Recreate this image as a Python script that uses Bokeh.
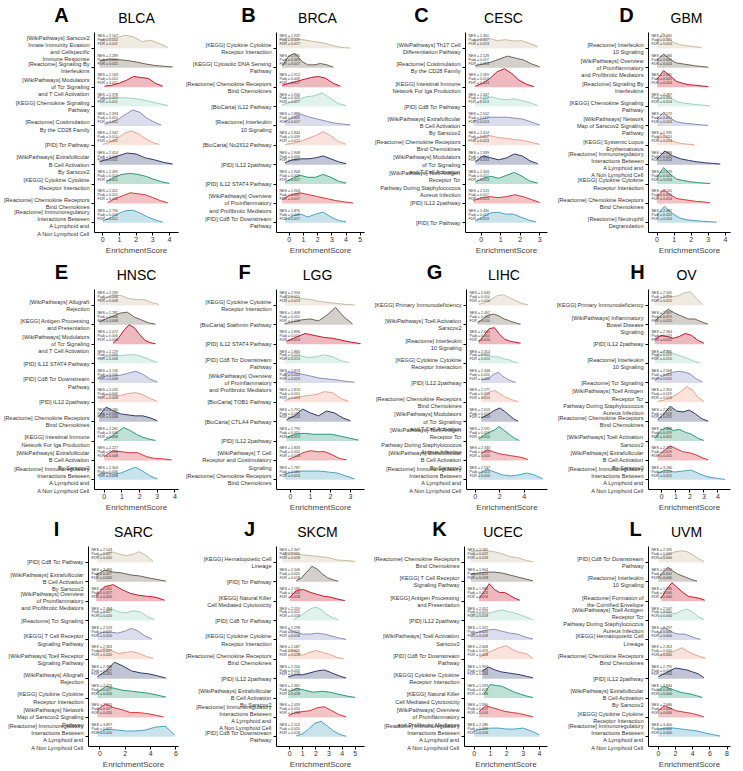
import numpy as np
from bokeh.plotting import figure
from bokeh.layouts import column, row
from bokeh.models import FixedTicker, ColumnDataSource
from bokeh.core.properties import value
from bokeh.embed import file_html
from bokeh.resources import INLINE

FONT = "Liberation Sans"
LINE_COLORS = ["#C9BB9E", "#6E6356", "#C8142B", "#9DD3BF", "#8A8FBF",
               "#EFA18C", "#2E3A6E", "#2B9A75", "#D7363B", "#4BA3C3"]

# ---------------- A  BLCA ----------------
blca_terms = ["[WikiPathways] Sarscov2\nInnate Immunity Evasion\nand Cellspecific\nImmune Response",
              "[Reactome] Signaling By\nInterleukins",
              "[WikiPathways] Modulators\nof Tcr Signaling\nand T Cell Activation",
              "[KEGG] Chemokine Signaling\nPathway",
              "[Reactome] Costimulation\nBy the CD28 Family",
              "[PID] Tcr Pathway",
              "[WikiPathways] Extrafollicular\nB Cell Activation\nBy Sarscov2",
              "[KEGG] Cytokine Cytokine\nReceptor Interaction",
              "[Reactome] Chemokine Receptors\nBind Chemokines",
              "[Reactome] Immunoregulatory\nInteractions Between\nA Lymphoid and\nA Non Lymphoid Cell"]
blca_nes = [2.507, 2.289, 2.163, 2.378, 2.393, 2.342, 2.414, 2.495, 2.411, 2.790]
blca_padj, blca_fdr = "0.010", "0.011"
blca_x0 = [-0.2, -0.2, 0.1, -0.2, 0.1, 0.0, -0.2, 0.2, 0.3, 0.0]
blca_x1 = [3.9, 4.2, 3.6, 3.9, 3.5, 3.4, 4.2, 4.0, 3.9, 3.6]
blca_dens = [[0.45, 0.5, 0.55, 0.68, 0.6, 0.35, 0.42, 0.25, 0.05],
             [0.35, 0.45, 0.42, 0.38, 0.3, 0.2, 0.12, 0.08, 0.04],
             [0.05, 0.1, 0.2, 0.35, 0.55, 0.5, 0.45, 0.2, 0.05],
             [0.35, 0.42, 0.45, 0.45, 0.42, 0.35, 0.25, 0.15, 0.05],
             [0.1, 0.2, 0.35, 0.6, 0.82, 0.7, 0.4, 0.2, 0.05],
             [0.05, 0.15, 0.35, 0.6, 0.75, 0.6, 0.35, 0.15, 0.05],
             [0.15, 0.3, 0.45, 0.6, 0.55, 0.35, 0.25, 0.12, 0.03],
             [0.1, 0.35, 0.5, 0.55, 0.5, 0.4, 0.25, 0.12, 0.03],
             [0.05, 0.25, 0.4, 0.55, 0.5, 0.45, 0.3, 0.15, 0.03],
             [0.1, 0.25, 0.45, 0.62, 0.65, 0.5, 0.3, 0.15, 0.03]]
blca_xlim, blca_xticks = (-0.5, 4.55), [0, 1, 2, 3, 4]

# ---------------- B  BRCA ----------------
brca_terms = ["[KEGG] Cytokine Cytokine\nReceptor Interaction",
              "[KEGG] Cytosolic DNA Sensing\nPathway",
              "[Reactome] Chemokine Receptors\nBind Chemokines",
              "[BioCarta] IL12 Pathway",
              "[Reactome] Interleukin\n10 Signaling",
              "[BioCarta] No2Il12 Pathway",
              "[PID] IL12 2pathway",
              "[PID] IL12 STAT4 Pathway",
              "[WikiPathways] Overview\nof Proinflammatory\nand Profibrotic Mediators",
              "[PID] Cd8 Tcr Downstream\nPathway"]
brca_nes = [1.932, 1.995, 1.912, 1.900, 1.889, 1.834, 1.908, 1.906, 1.903, 1.876]
brca_padj, brca_fdr = "0.009", "0.017"
brca_x0 = [-0.7, -0.5, -0.5, -0.5, -0.3, -0.3, -0.3, -0.3, -0.5, -0.3]
brca_x1 = [4.3, 3.1, 3.6, 4.0, 4.3, 4.0, 4.0, 4.0, 4.5, 4.0]
brca_dens = [[0.45, 0.55, 0.5, 0.42, 0.35, 0.28, 0.15, 0.05, 0.02],
             [0.1, 0.6, 0.75, 0.35, 0.15, 0.15, 0.22, 0.15, 0.03],
             [0.1, 0.2, 0.3, 0.4, 0.5, 0.55, 0.45, 0.2, 0.05],
             [0.1, 0.2, 0.35, 0.5, 0.55, 0.7, 0.45, 0.15, 0.05],
             [0.2, 0.45, 0.6, 0.45, 0.35, 0.25, 0.15, 0.1, 0.05],
             [0.05, 0.1, 0.2, 0.35, 0.5, 0.7, 0.5, 0.2, 0.05],
             [0.1, 0.25, 0.3, 0.3, 0.35, 0.45, 0.3, 0.15, 0.05],
             [0.1, 0.3, 0.45, 0.35, 0.35, 0.5, 0.35, 0.15, 0.05],
             [0.2, 0.45, 0.55, 0.45, 0.35, 0.25, 0.15, 0.08, 0.02],
             [0.15, 0.35, 0.45, 0.3, 0.45, 0.55, 0.3, 0.12, 0.05]]
brca_xlim, brca_xticks = (-0.9, 5.3), [0, 1, 2, 3, 4, 5]

# ---------------- C  CESC ----------------
cesc_terms = ["[WikiPathways] Th17 Cell\nDifferentiation Pathway",
              "[Reactome] Costimulation\nBy the CD28 Family",
              "[KEGG] Intestinal Immune\nNetwork For Iga Production",
              "[PID] Cd8 Tcr Pathway",
              "[WikiPathways] Extrafollicular\nB Cell Activation\nBy Sarscov2",
              "[Reactome] Chemokine Receptors\nBind Chemokines",
              "[WikiPathways] Modulators\nof Tcr Signaling\nand T Cell Activation",
              "[WikiPathways] Tcell Antigen\nReceptor Tcr\nPathway During Staphylococcus\nAureus Infection",
              "[PID] IL12 2pathway",
              "[PID] Tcr Pathway"]
cesc_nes = [2.361, 2.528, 2.359, 2.407, 2.502, 2.414, 2.339, 2.303, 2.519, 2.430]
cesc_padj, cesc_fdr = "0.017", "0.013"
cesc_x0 = [-0.4, -0.3, -0.3, -0.3, -0.4, -0.4, -0.3, -0.3, -0.4, -0.3]
cesc_x1 = [2.9, 3.0, 2.7, 2.9, 3.0, 3.0, 2.9, 2.9, 3.0, 2.8]
cesc_dens = [[0.4, 0.48, 0.5, 0.4, 0.45, 0.38, 0.4, 0.25, 0.1],
             [0.1, 0.2, 0.3, 0.45, 0.6, 0.5, 0.4, 0.2, 0.05],
             [0.05, 0.2, 0.45, 0.8, 0.95, 0.7, 0.35, 0.15, 0.03],
             [0.15, 0.35, 0.5, 0.4, 0.35, 0.4, 0.3, 0.2, 0.05],
             [0.25, 0.35, 0.45, 0.45, 0.45, 0.4, 0.35, 0.2, 0.05],
             [0.3, 0.45, 0.5, 0.4, 0.35, 0.3, 0.25, 0.15, 0.05],
             [0.15, 0.45, 0.35, 0.25, 0.35, 0.55, 0.45, 0.2, 0.05],
             [0.1, 0.3, 0.4, 0.3, 0.45, 0.6, 0.4, 0.15, 0.05],
             [0.15, 0.3, 0.35, 0.3, 0.35, 0.45, 0.35, 0.2, 0.05],
             [0.1, 0.3, 0.5, 0.55, 0.45, 0.45, 0.3, 0.15, 0.05]]
cesc_xlim, cesc_xticks = (-0.8, 3.4), [0, 1, 2, 3]

# ---------------- D  GBM ----------------
gbm_terms = ["[Reactome] Interleukin\n10 Signaling",
             "[WikiPathways] Overview\nof Proinflammatory\nand Profibrotic Mediators",
             "[Reactome] Signaling By\nInterleukins",
             "[KEGG] Chemokine Signaling\nPathway",
             "[WikiPathways] Network\nMap of Sarscov2 Signaling\nPathway",
             "[KEGG] Systemic Lupus\nErythematosus",
             "[Reactome] Immunoregulatory\nInteractions Between\nA Lymphoid and\nA Non Lymphoid Cell",
             "[KEGG] Cytokine Cytokine\nReceptor Interaction",
             "[Reactome] Chemokine Receptors\nBind Chemokines",
             "[Reactome] Neutrophil\nDegranulation"]
gbm_nes = [2.465, 2.084, 2.031, 2.487, 2.172, 1.995, 2.386, 2.076, 2.105, 2.082]
gbm_padj, gbm_fdr = "0.020", "0.014"
gbm_x0 = [0.0] * 10
gbm_x1 = [2.6, 3.0, 3.0, 3.1, 3.0, 2.2, 3.7, 3.1, 3.1, 3.5]
gbm_dens = [[0.3, 0.8, 0.5, 0.3, 0.2, 0.15, 0.12, 0.08, 0.04],
            [0.4, 0.7, 0.45, 0.25, 0.2, 0.15, 0.1, 0.06, 0.03],
            [0.4, 0.85, 0.6, 0.3, 0.2, 0.12, 0.1, 0.06, 0.03],
            [0.3, 0.6, 0.45, 0.25, 0.18, 0.14, 0.1, 0.07, 0.03],
            [0.35, 0.7, 0.4, 0.22, 0.15, 0.12, 0.08, 0.05, 0.03],
            [0.3, 0.65, 0.45, 0.25, 0.15, 0.1, 0.07, 0.05, 0.02],
            [0.3, 0.7, 0.45, 0.3, 0.22, 0.15, 0.1, 0.07, 0.03],
            [0.35, 0.85, 0.5, 0.25, 0.18, 0.12, 0.08, 0.05, 0.03],
            [0.35, 0.7, 0.45, 0.25, 0.2, 0.15, 0.1, 0.08, 0.03],
            [0.4, 0.85, 0.5, 0.25, 0.15, 0.12, 0.08, 0.06, 0.03]]
gbm_xlim, gbm_xticks = (-0.5, 4.3), [0, 1, 2, 3, 4]

# ---------------- E  HNSC ----------------
hnsc_terms = ["[WikiPathways] Allograft\nRejection",
              "[KEGG] Antigen Processing\nand Presentation",
              "[WikiPathways] Modulators\nof Tcr Signaling\nand T Cell Activation",
              "[PID] IL12 STAT4 Pathway",
              "[PID] Cd8 Tcr Downstream\nPathway",
              "[PID] IL12 2pathway",
              "[Reactome] Chemokine Receptors\nBind Chemokines",
              "[KEGG] Intestinal Immune\nNetwork For Iga Production",
              "[WikiPathways] Extrafollicular\nB Cell Activation\nBy Sarscov2",
              "[Reactome] Immunoregulatory\nInteractions Between\nA Lymphoid and\nA Non Lymphoid Cell"]
hnsc_nes = [2.299, 2.282, 2.072, 2.229, 2.130, 2.245, 2.180, 2.281, 2.227, 2.304]
hnsc_padj, hnsc_fdr = "0.006", "0.008"
hnsc_x0 = [-0.3, -0.3, 0.5, -0.3, -0.3, -0.3, -0.3, 0.0, 0.0, -0.3]
hnsc_x1 = [3.1, 2.9, 2.9, 3.0, 3.0, 3.0, 3.0, 2.9, 3.8, 3.0]
hnsc_dens = [[0.3, 0.4, 0.55, 0.5, 0.35, 0.3, 0.3, 0.15, 0.05],
             [0.15, 0.3, 0.45, 0.6, 0.65, 0.4, 0.25, 0.1, 0.03],
             [0.05, 0.3, 0.7, 1.0, 0.85, 0.5, 0.2, 0.08, 0.02],
             [0.25, 0.35, 0.4, 0.4, 0.45, 0.45, 0.35, 0.2, 0.05],
             [0.3, 0.35, 0.35, 0.4, 0.5, 0.6, 0.45, 0.2, 0.05],
             [0.2, 0.4, 0.35, 0.35, 0.45, 0.5, 0.4, 0.2, 0.05],
             [0.3, 0.75, 0.55, 0.4, 0.35, 0.3, 0.3, 0.2, 0.05],
             [0.05, 0.2, 0.45, 0.7, 0.55, 0.35, 0.2, 0.1, 0.03],
             [0.2, 0.5, 0.45, 0.4, 0.4, 0.2, 0.1, 0.08, 0.03],
             [0.3, 0.35, 0.3, 0.35, 0.5, 0.65, 0.45, 0.2, 0.05]]
hnsc_xlim, hnsc_xticks = (-0.55, 4.2), [0, 1, 2, 3, 4]

# ---------------- F  LGG ----------------
lgg_terms = ["[KEGG] Cytokine Cytokine\nReceptor Interaction",
             "[BioCarta] Stathmin Pathway",
             "[PID] IL12 STAT4 Pathway",
             "[PID] Cd8 Tcr Downstream\nPathway",
             "[WikiPathways] Overview\nof Proinflammatory\nand Profibrotic Mediators",
             "[BioCarta] TOB1 Pathway",
             "[BioCarta] CTLA4 Pathway",
             "[PID] IL12 2pathway",
             "[WikiPathways] T Cell\nReceptor and Costimulatory\nSignaling",
             "[Reactome] Chemokine Receptors\nBind Chemokines"]
lgg_nes = [1.994, 1.808, 1.896, 1.860, 1.874, 1.874, 1.792, 1.795, 1.833, 1.787]
lgg_padj, lgg_fdr = "0.010", "0.013"
lgg_x0 = [-0.3, -0.3, -0.2, -0.3, -0.3, -0.3, -0.2, -0.2, -0.1, -0.3]
lgg_x1 = [3.2, 3.1, 3.5, 2.9, 3.2, 2.9, 3.0, 3.4, 2.8, 3.2]
lgg_dens = [[0.55, 0.45, 0.35, 0.3, 0.2, 0.15, 0.1, 0.05, 0.02],
            [0.05, 0.15, 0.25, 0.3, 0.2, 0.5, 0.9, 0.4, 0.05],
            [0.15, 0.35, 0.55, 0.45, 0.35, 0.3, 0.2, 0.1, 0.03],
            [0.25, 0.35, 0.4, 0.3, 0.35, 0.45, 0.35, 0.15, 0.05],
            [0.5, 0.55, 0.45, 0.35, 0.25, 0.2, 0.15, 0.08, 0.03],
            [0.1, 0.2, 0.3, 0.35, 0.4, 0.55, 0.5, 0.2, 0.05],
            [0.1, 0.3, 0.65, 0.45, 0.3, 0.55, 0.45, 0.2, 0.05],
            [0.2, 0.35, 0.4, 0.35, 0.35, 0.35, 0.25, 0.15, 0.05],
            [0.05, 0.2, 0.4, 0.5, 0.45, 0.45, 0.3, 0.1, 0.03],
            [0.3, 0.4, 0.45, 0.45, 0.45, 0.4, 0.35, 0.2, 0.05]]
lgg_xlim, lgg_xticks = (-0.7, 3.7), [0, 1, 2, 3]

# ---------------- G  LIHC ----------------
lihc_terms = ["[KEGG] Primary Immunodeficiency",
              "[WikiPathways] Tcell Activation\nSarscov2",
              "[Reactome] Interleukin\n10 Signaling",
              "[KEGG] Cytokine Cytokine\nReceptor Interaction",
              "[PID] IL12 2pathway",
              "[Reactome] Chemokine Receptors\nBind Chemokines",
              "[WikiPathways] Modulators\nof Tcr Signaling\nand T Cell Activation",
              "[WikiPathways] Tcell Antigen\nReceptor Tcr\nPathway During Staphylococcus\nAureus Infection",
              "[WikiPathways] Extrafollicular\nB Cell Activation\nBy Sarscov2",
              "[Reactome] Immunoregulatory\nInteractions Between\nA Lymphoid and\nA Non Lymphoid Cell"]
lihc_nes = [2.643, 2.467, 2.641, 2.314, 2.348, 2.277, 2.613, 2.591, 2.333, 2.537]
lihc_padj, lihc_fdr = "0.010", "0.010"
lihc_x0 = [0.3, 0.2, 0.3, 0.3, 0.5, 0.5, 0.5, 0.3, 0.5, 0.3]
lihc_x1 = [4.3, 3.7, 3.7, 3.5, 3.3, 3.5, 3.5, 3.6, 4.3, 5.5]
lihc_dens = [[0.05, 0.15, 0.3, 0.5, 0.55, 0.4, 0.25, 0.1, 0.03],
             [0.1, 0.3, 0.5, 0.55, 0.45, 0.3, 0.2, 0.1, 0.03],
             [0.1, 0.45, 0.8, 0.85, 0.5, 0.25, 0.15, 0.1, 0.05],
             [0.4, 0.5, 0.4, 0.35, 0.35, 0.25, 0.2, 0.1, 0.03],
             [0.15, 0.2, 0.3, 0.45, 0.55, 0.35, 0.2, 0.1, 0.03],
             [0.2, 0.4, 0.55, 0.6, 0.45, 0.3, 0.2, 0.1, 0.03],
             [0.2, 0.3, 0.45, 0.6, 0.7, 0.55, 0.35, 0.15, 0.03],
             [0.1, 0.3, 0.45, 0.55, 0.75, 0.55, 0.35, 0.15, 0.03],
             [0.35, 0.55, 0.45, 0.35, 0.3, 0.25, 0.2, 0.15, 0.05],
             [0.3, 0.55, 0.4, 0.25, 0.2, 0.25, 0.35, 0.25, 0.05]]
lihc_xlim, lihc_xticks = (-0.7, 5.9), [0, 2, 4]

# ---------------- H  OV ----------------
ov_terms = ["[KEGG] Primary Immunodeficiency",
            "[WikiPathways] Inflammatory\nBowel Disease\nSignaling",
            "[PID] IL12 2pathway",
            "[Reactome] Interleukin\n10 Signaling",
            "[Reactome] Tcr Signaling",
            "[WikiPathways] Tcell Antigen\nReceptor Tcr\nPathway During Staphylococcus\nAureus Infection",
            "[Reactome] Chemokine Receptors\nBind Chemokines",
            "[WikiPathways] Tcell Activation\nSarscov2",
            "[WikiPathways] Extrafollicular\nB Cell Activation\nBy Sarscov2",
            "[Reactome] Immunoregulatory\nInteractions Between\nA Lymphoid and\nA Non Lymphoid Cell"]
ov_nes = [2.505, 2.497, 2.564, 2.405, 2.568, 2.355, 2.520, 2.489, 2.465, 3.180]
ov_padj, ov_fdr = "0.019", "0.015"
ov_x0 = [-0.5, -0.5, -0.5, -0.5, -0.5, -0.3, -0.3, -0.5, -0.3, -0.3]
ov_x1 = [2.9, 3.3, 3.0, 2.7, 2.9, 3.0, 3.3, 3.0, 3.3, 4.5]
ov_dens = [[0.2, 0.35, 0.5, 0.45, 0.5, 0.65, 0.7, 0.35, 0.05],
           [0.2, 0.5, 0.8, 0.6, 0.45, 0.3, 0.3, 0.15, 0.03],
           [0.25, 0.45, 0.4, 0.3, 0.4, 0.55, 0.45, 0.2, 0.05],
           [0.3, 0.55, 0.7, 0.55, 0.45, 0.35, 0.25, 0.12, 0.03],
           [0.15, 0.3, 0.45, 0.55, 0.6, 0.55, 0.45, 0.2, 0.05],
           [0.05, 0.1, 0.2, 0.35, 0.55, 0.8, 0.65, 0.25, 0.05],
           [0.1, 0.4, 0.8, 0.55, 0.5, 0.6, 0.4, 0.15, 0.03],
           [0.15, 0.55, 0.7, 0.55, 0.6, 0.45, 0.35, 0.15, 0.03],
           [0.2, 0.5, 0.75, 0.6, 0.45, 0.4, 0.3, 0.15, 0.03],
           [0.35, 0.5, 0.4, 0.45, 0.5, 0.3, 0.15, 0.08, 0.02]]
ov_xlim, ov_xticks = (-0.95, 4.9), [0, 1, 2, 3, 4]

# ---------------- I  SARC ----------------
sarc_terms = ["[PID] Cd8 Tcr Pathway",
              "[WikiPathways] Extrafollicular\nB Cell Activation\nBy Sarscov2",
              "[WikiPathways] Overview\nof Proinflammatory\nand Profibrotic Mediators",
              "[Reactome] Tcr Signaling",
              "[KEGG] T Cell Receptor\nSignaling Pathway",
              "[WikiPathways] Tcell Receptor\nSignaling Pathway",
              "[WikiPathways] Allograft\nRejection",
              "[KEGG] Cytokine Cytokine\nReceptor Interaction",
              "[WikiPathways] Network\nMap of Sarscov2 Signaling\nPathway",
              "[Reactome] Immunoregulatory\nInteractions Between\nA Lymphoid and\nA Non Lymphoid Cell"]
sarc_nes = [2.543, 2.499, 2.431, 2.484, 2.523, 2.363, 2.388, 2.424, 2.420, 3.897]
sarc_padj, sarc_fdr = "0.027", "0.020"
sarc_x0 = [-0.2, -0.3, -0.3, -0.2, -0.2, -0.2, -0.2, -0.2, -0.2, -0.2]
sarc_x1 = [4.2, 5.2, 5.1, 4.3, 4.1, 4.2, 5.2, 5.2, 5.0, 5.9]
sarc_dens = [[0.3, 0.45, 0.55, 0.45, 0.35, 0.4, 0.55, 0.35, 0.05],
             [0.35, 0.6, 0.5, 0.45, 0.35, 0.3, 0.2, 0.12, 0.03],
             [0.3, 0.75, 0.85, 0.6, 0.4, 0.3, 0.25, 0.2, 0.05],
             [0.25, 0.45, 0.6, 0.45, 0.4, 0.5, 0.45, 0.2, 0.05],
             [0.3, 0.4, 0.4, 0.35, 0.45, 0.6, 0.45, 0.2, 0.05],
             [0.4, 0.55, 0.45, 0.3, 0.35, 0.4, 0.3, 0.15, 0.05],
             [0.1, 0.4, 0.85, 0.65, 0.4, 0.3, 0.25, 0.15, 0.03],
             [0.3, 0.6, 0.5, 0.4, 0.35, 0.3, 0.25, 0.15, 0.05],
             [0.4, 0.7, 0.5, 0.4, 0.25, 0.25, 0.2, 0.12, 0.03],
             [0.2, 0.4, 0.35, 0.3, 0.3, 0.35, 0.5, 0.55, 0.1]]
sarc_xlim, sarc_xticks = (-0.9, 6.2), [0, 2, 4, 6]

# ---------------- J  SKCM ----------------
skcm_terms = ["[KEGG] Hematopoietic Cell\nLineage",
              "[PID] Tcr Pathway",
              "[KEGG] Natural Killer\nCell Mediated Cytotoxicity",
              "[PID] Cd8 Tcr Pathway",
              "[KEGG] Cytokine Cytokine\nReceptor Interaction",
              "[Reactome] Chemokine Receptors\nBind Chemokines",
              "[PID] IL12 2pathway",
              "[WikiPathways] Extrafollicular\nB Cell Activation\nBy Sarscov2",
              "[Reactome] Immunoregulatory\nInteractions Between\nA Lymphoid and\nA Non Lymphoid Cell",
              "[PID] Cd8 Tcr Downstream\nPathway"]
skcm_nes = [2.307, 2.106, 2.194, 2.119, 2.298, 2.087, 2.200, 2.367, 2.059, 2.113]
skcm_padj, skcm_fdr = "0.020", "0.018"
skcm_x0 = [-0.5, 0.5, 0.0, 0.3, -0.1, -0.1, -0.1, -0.1, -0.1, 0.5]
skcm_x1 = [5.0, 3.7, 4.2, 3.7, 4.3, 4.1, 4.3, 5.0, 4.3, 4.3]
skcm_dens = [[0.5, 0.5, 0.4, 0.35, 0.3, 0.25, 0.12, 0.1, 0.05],
             [0.05, 0.2, 0.5, 0.8, 0.65, 0.4, 0.2, 0.1, 0.03],
             [0.2, 0.55, 0.6, 0.45, 0.35, 0.25, 0.2, 0.1, 0.03],
             [0.05, 0.2, 0.4, 0.6, 0.7, 0.55, 0.3, 0.15, 0.03],
             [0.55, 0.4, 0.3, 0.3, 0.35, 0.3, 0.2, 0.1, 0.03],
             [0.5, 0.45, 0.2, 0.35, 0.45, 0.35, 0.25, 0.1, 0.03],
             [0.1, 0.2, 0.2, 0.3, 0.4, 0.45, 0.3, 0.15, 0.03],
             [0.3, 0.5, 0.4, 0.3, 0.35, 0.3, 0.2, 0.1, 0.03],
             [0.1, 0.25, 0.3, 0.35, 0.5, 0.55, 0.35, 0.15, 0.03],
             [0.05, 0.15, 0.4, 0.7, 0.8, 0.55, 0.3, 0.12, 0.03]]
skcm_xlim, skcm_xticks = (-1.0, 5.7), [0, 1, 2, 3, 4, 5]

# ---------------- K  UCEC ----------------
ucec_terms = ["[Reactome] Chemokine Receptors\nBind Chemokines",
              "[KEGG] T Cell Receptor\nSignaling Pathway",
              "[KEGG] Antigen Processing\nand Presentation",
              "[PID] IL12 2pathway",
              "[WikiPathways] Tcell Activation\nSarscov2",
              "[PID] Cd8 Tcr Downstream\nPathway",
              "[KEGG] Cytokine Cytokine\nReceptor Interaction",
              "[KEGG] Natural Killer\nCell Mediated Cytotoxicity",
              "[WikiPathways] Overview\nof Proinflammatory\nand Profibrotic Mediators",
              "[Reactome] Immunoregulatory\nInteractions Between\nA Lymphoid and\nA Non Lymphoid Cell"]
ucec_nes = [2.165, 1.904, 1.980, 2.052, 1.922, 2.608, 1.993, 1.929, 1.990, 2.286]
ucec_padj, ucec_fdr = "0.023", "0.018"
ucec_x0 = [-0.2, -0.2, 0.3, -0.2, -0.2, 0.3, 0.5, 0.6, 0.3, 0.0]
ucec_x1 = [3.6, 3.6, 2.8, 3.6, 3.6, 3.6, 3.6, 3.6, 3.6, 4.0]
ucec_dens = [[0.55, 0.6, 0.6, 0.55, 0.45, 0.3, 0.25, 0.12, 0.03],
             [0.4, 0.45, 0.5, 0.5, 0.45, 0.35, 0.25, 0.15, 0.05],
             [0.15, 0.5, 0.9, 0.6, 0.45, 0.45, 0.3, 0.15, 0.05],
             [0.3, 0.35, 0.35, 0.45, 0.55, 0.45, 0.35, 0.2, 0.05],
             [0.3, 0.4, 0.5, 0.55, 0.45, 0.35, 0.3, 0.15, 0.05],
             [0.1, 0.3, 0.45, 0.6, 0.7, 0.5, 0.35, 0.3, 0.05],
             [0.4, 0.6, 0.45, 0.35, 0.3, 0.25, 0.2, 0.12, 0.05],
             [0.2, 0.7, 0.65, 0.6, 0.45, 0.3, 0.2, 0.1, 0.03],
             [0.3, 0.6, 0.5, 0.4, 0.3, 0.25, 0.2, 0.12, 0.03],
             [0.3, 0.4, 0.45, 0.45, 0.4, 0.4, 0.45, 0.3, 0.1]]
ucec_xlim, ucec_xticks = (-0.6, 4.5), [0, 1, 2, 3, 4]

# ---------------- L  UVM ----------------
uvm_terms = ["[PID] Cd8 Tcr Downstream\nPathway",
             "[Reactome] Interleukin\n10 Signaling",
             "[Reactome] Formation of\nthe Cornified Envelope",
             "[WikiPathways] Tcell Antigen\nReceptor Tcr\nPathway During Staphylococcus\nAureus Infection",
             "[KEGG] Hematopoietic Cell\nLineage",
             "[Reactome] Chemokine Receptors\nBind Chemokines",
             "[PID] IL12 2pathway",
             "[WikiPathways] Extrafollicular\nB Cell Activation\nBy Sarscov2",
             "[KEGG] Cytokine Cytokine\nReceptor Interaction",
             "[Reactome] Immunoregulatory\nInteractions Between\nA Lymphoid and\nA Non Lymphoid Cell"]
uvm_nes = [2.595, 2.510, 1.935, 2.507, 2.297, 2.353, 2.795, 2.844, 2.686, 3.400]
uvm_padj, uvm_fdr = "0.000", "0.000"
uvm_x0 = [0.0, 0.0, 0.3, 0.0, 0.0, 0.0, 0.0, 0.0, 0.0, 0.0]
uvm_x1 = [5.3, 4.5, 5.4, 5.3, 4.9, 5.5, 5.3, 5.1, 5.3, 7.2]
uvm_dens = [[0.2, 0.35, 0.45, 0.55, 0.6, 0.55, 0.4, 0.2, 0.05],
            [0.2, 0.5, 0.75, 0.55, 0.4, 0.3, 0.2, 0.1, 0.03],
            [0.15, 0.6, 0.95, 0.7, 0.45, 0.25, 0.2, 0.15, 0.05],
            [0.2, 0.45, 0.4, 0.35, 0.5, 0.6, 0.45, 0.2, 0.05],
            [0.3, 0.65, 0.5, 0.35, 0.3, 0.3, 0.2, 0.1, 0.03],
            [0.2, 0.3, 0.35, 0.45, 0.6, 0.4, 0.25, 0.15, 0.05],
            [0.1, 0.25, 0.4, 0.55, 0.5, 0.45, 0.35, 0.25, 0.05],
            [0.4, 0.6, 0.5, 0.4, 0.3, 0.25, 0.2, 0.12, 0.03],
            [0.35, 0.6, 0.5, 0.35, 0.3, 0.25, 0.2, 0.12, 0.03],
            [0.4, 0.45, 0.45, 0.4, 0.35, 0.3, 0.2, 0.12, 0.04]]
uvm_xlim, uvm_xticks = (-1.15, 8.4), [0, 2, 4, 6, 8]

PANEL_LETTERS = ["A", "B", "C", "D", "E", "F", "G", "H", "I", "J", "K", "L"]
PANEL_TITLES = ["BLCA", "BRCA", "CESC", "GBM", "HNSC", "LGG", "LIHC", "OV", "SARC", "SKCM", "UCEC", "UVM"]
LEFT_BORDERS = [94, 90, 96, 96, 94, 90, 97, 96, 88, 90, 95, 96]
# horizontal position of each panel letter's centre, relative to its frame's left edge (px)
LETTER_REL = [-33, -25, -41, -19, -33, -29, -29, -8, -32, -24, -22, -10]

panels = [
    (blca_terms, blca_nes, blca_padj, blca_fdr, blca_x0, blca_x1, blca_dens, blca_xlim, blca_xticks),
    (brca_terms, brca_nes, brca_padj, brca_fdr, brca_x0, brca_x1, brca_dens, brca_xlim, brca_xticks),
    (cesc_terms, cesc_nes, cesc_padj, cesc_fdr, cesc_x0, cesc_x1, cesc_dens, cesc_xlim, cesc_xticks),
    (gbm_terms, gbm_nes, gbm_padj, gbm_fdr, gbm_x0, gbm_x1, gbm_dens, gbm_xlim, gbm_xticks),
    (hnsc_terms, hnsc_nes, hnsc_padj, hnsc_fdr, hnsc_x0, hnsc_x1, hnsc_dens, hnsc_xlim, hnsc_xticks),
    (lgg_terms, lgg_nes, lgg_padj, lgg_fdr, lgg_x0, lgg_x1, lgg_dens, lgg_xlim, lgg_xticks),
    (lihc_terms, lihc_nes, lihc_padj, lihc_fdr, lihc_x0, lihc_x1, lihc_dens, lihc_xlim, lihc_xticks),
    (ov_terms, ov_nes, ov_padj, ov_fdr, ov_x0, ov_x1, ov_dens, ov_xlim, ov_xticks),
    (sarc_terms, sarc_nes, sarc_padj, sarc_fdr, sarc_x0, sarc_x1, sarc_dens, sarc_xlim, sarc_xticks),
    (skcm_terms, skcm_nes, skcm_padj, skcm_fdr, skcm_x0, skcm_x1, skcm_dens, skcm_xlim, skcm_xticks),
    (ucec_terms, ucec_nes, ucec_padj, ucec_fdr, ucec_x0, ucec_x1, ucec_dens, ucec_xlim, ucec_xticks),
    (uvm_terms, uvm_nes, uvm_padj, uvm_fdr, uvm_x0, uvm_x1, uvm_dens, uvm_xlim, uvm_xticks),
]

CELL_W = 183
FRAME_H = 200
HEAD_H = 27
RIGHT_B = 5


def make_panel(k):
    terms, nes, padj, fdr, x0s, x1s, dens, xlim, xticks = panels[k]
    lb = LEFT_BORDERS[k]
    n = len(terms)
    p = figure(frame_width=CELL_W - lb - RIGHT_B, frame_height=FRAME_H,
               x_range=xlim, y_range=(0.5, n + 0.82), title=None,
               output_backend="svg", toolbar_location=None,
               min_border_left=lb, min_border_right=RIGHT_B,
               min_border_top=5, min_border_bottom=21,
               background_fill_color="white", border_fill_color="white")
    p.outline_line_color = None
    p.xgrid.visible = False
    p.ygrid.visible = False

    # ridges: top ridge first, so lower ridges are drawn over it
    for i in range(n):
        base = n - i
        h = np.array(dens[i])
        xs = np.linspace(x0s[i], x1s[i], len(h))
        col = LINE_COLORS[i % len(LINE_COLORS)]
        p.varea(x=xs, y1=np.full(len(h), base), y2=base + h,
                fill_color=col, fill_alpha=0.3)
        p.line(xs, base + h, line_color=col, line_width=1)

    # NES / Padj / FDR annotations
    tx, ty, tt = [], [], []
    for i in range(n):
        base = n - i
        for off, s in ((0.62, "NES = %.3f" % nes[i]), (0.42, "Padj = " + padj), (0.22, "FDR = " + fdr)):
            tx.append(xlim[0]); ty.append(base + off); tt.append(s)
    src = ColumnDataSource(dict(x=tx, y=ty, t=tt))
    p.text(x="x", y="y", text="t", source=src, x_offset=3,
           text_font_size="3.6px", text_color="#333333",
           text_baseline="middle", text_align="left", text_font=value(FONT))

    # axes
    p.yaxis.ticker = FixedTicker(ticks=list(range(1, n + 1)))
    p.yaxis.major_label_overrides = {n - i: terms[i] for i in range(n)}
    p.yaxis.major_label_text_font_size = "5.6px"
    p.yaxis.major_label_text_font = FONT
    p.yaxis.major_label_text_color = "#333333"
    p.yaxis.major_label_standoff = 2
    p.xaxis.ticker = FixedTicker(ticks=xticks)
    p.xaxis.major_label_text_font_size = "7px"
    p.xaxis.major_label_text_font = FONT
    p.xaxis.major_label_text_color = "#333333"
    p.xaxis.major_label_standoff = 1
    p.xaxis.axis_label = "EnrichmentScore"
    p.xaxis.axis_label_text_font_size = "8px"
    p.xaxis.axis_label_text_font = FONT
    p.xaxis.axis_label_text_font_style = "normal"
    p.xaxis.axis_label_standoff = 1
    for ax in (p.xaxis, p.yaxis):
        ax.axis_line_color = "black"
        ax.axis_line_width = 1
        ax.major_tick_line_color = "black"
        ax.major_tick_out = 3
        ax.major_tick_in = 0
        ax.minor_tick_line_color = None
    return p


def make_header(r):
    """Strip above one row of panels that carries the panel letters and cancer names."""
    total_w = 4 * CELL_W
    h = figure(width=total_w, height=HEAD_H, x_range=(0, total_w), y_range=(0, HEAD_H),
               title=None, x_axis_location=None, y_axis_location=None,
               output_backend="svg", toolbar_location=None,
               min_border_left=0, min_border_right=0, min_border_top=0, min_border_bottom=0,
               background_fill_color="white", border_fill_color="white")
    h.outline_line_color = None
    h.xgrid.visible = False
    h.ygrid.visible = False
    lx, ltxt, nx, ntxt = [], [], [], []
    for c in range(4):
        k = r * 4 + c
        frame_left = c * CELL_W + LEFT_BORDERS[k]
        frame_w = CELL_W - LEFT_BORDERS[k] - RIGHT_B
        lx.append(frame_left + LETTER_REL[k]); ltxt.append(PANEL_LETTERS[k])
        nx.append(frame_left + frame_w / 2); ntxt.append(PANEL_TITLES[k])
    h.text(x=lx, y=[HEAD_H - 14] * 4, text=ltxt, text_font=value(FONT),
           text_font_size="20px", text_font_style="bold", text_color="black",
           text_align="center", text_baseline="middle")
    h.text(x=nx, y=[HEAD_H - 17] * 4, text=ntxt, text_font=value(FONT),
           text_font_size="14px", text_color="black",
           text_align="center", text_baseline="middle")
    return h


figs = [make_panel(k) for k in range(12)]
rows = []
for r in range(3):
    rows.append(make_header(r))
    rows.append(row(*figs[r * 4:(r + 1) * 4]))
page = column(*rows)
open("out.html", "w").write(file_html(page, INLINE))
